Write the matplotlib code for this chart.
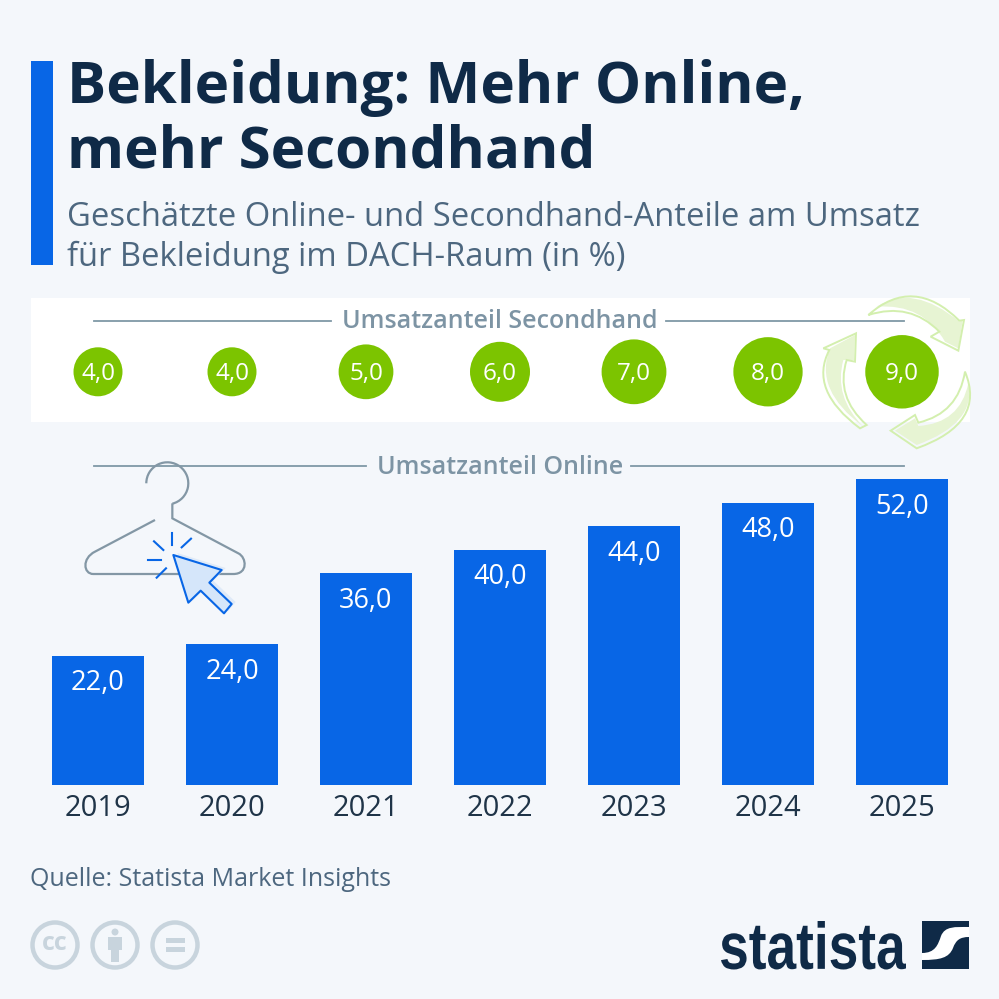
import numpy as np
import matplotlib
matplotlib.use('Agg')
import matplotlib.pyplot as plt
from matplotlib.patches import Rectangle, Polygon, Circle, Arc, PathPatch
from matplotlib.path import Path
from matplotlib.textpath import TextPath
from matplotlib.font_manager import FontProperties
from matplotlib.transforms import Affine2D

# chart data
years = ['2019', '2020', '2021', '2022', '2023', '2024', '2025']
online_share = [22.0, 24.0, 36.0, 40.0, 44.0, 48.0, 52.0]
secondhand_share = [4.0, 4.0, 5.0, 6.0, 7.0, 8.0, 9.0]

title_lines = ['Bekleidung: Mehr Online,', 'mehr Secondhand']
subtitle_lines = ['Geschätzte Online- und Secondhand-Anteile am Umsatz',
                  'für Bekleidung im DACH-Raum (in %)']
source_text = 'Quelle: Statista Market Insights'

# colours
bg_col = '#f4f7fb'
blue = '#0866e6'
navy = '#0f2a47'
slate = '#4d677f'
grey_label = '#7d94a4'
grey_line = '#7f98a6'
green = '#7cc400'
pale_green = '#e7f4d3'
pale_edge = '#d3efae'
cc_col = '#c8d4dd'

plt.rcParams['font.family'] = ['Open Sans', 'DejaVu Sans']
W = H = 999
fig = plt.figure(figsize=(W / 100, H / 100), dpi=100, facecolor=bg_col)


def px_axes(left, top, right, bottom, z):
    return fig.add_axes([left / W, 1 - bottom / H, (right - left) / W, (bottom - top) / H], zorder=z)


def zoom_pts(pts, x0, y0):
    return [(x0 + a / 3, y0 + b / 3) for a, b in pts]


def curved_shape(steps, x0=780, y0=280):
    # steps: list of points, a 2-tuple of points means quadratic curve (control, end)
    verts, codes = [], []
    for st in steps:
        if isinstance(st[0], tuple):
            verts += zoom_pts(st, x0, y0)
            codes += [Path.CURVE3, Path.CURVE3]
        else:
            verts += zoom_pts([st], x0, y0)
            codes.append(Path.LINETO if verts[:-1] else Path.MOVETO)
    verts.append(verts[0])
    codes.append(Path.CLOSEPOLY)
    return Path(verts, codes)


# overlay in pixel coordinates for header, icons and logo
deco = px_axes(0, 0, W, H, 0)
deco.set_xlim(0, W)
deco.set_ylim(H, 0)
deco.axis('off')

deco.add_patch(Rectangle((31, 61), 22, 204, fc=blue, ec='none'))
for txt, y in zip(title_lines, [88, 152]):
    deco.text(67, y, txt, fontsize=42, fontweight='bold', color=navy, va='center', ha='left')
for txt, y in zip(subtitle_lines, [218, 257]):
    deco.text(67, y, txt, fontsize=23.6, color=slate, va='center', ha='left')

# white band behind the secondhand row
deco.add_patch(Rectangle((31, 298), 939, 124, fc='white', ec='none'))

# recycling arrows
arrows = [
    [(265, 105), ((400, -15), (538, 122)), (552, 120), (535, 212), (452, 170), (478, 155), ((390, 65), (265, 105))],
    [(555, 275), ((620, 430), (410, 505)), (332, 452), (405, 405), (415, 428), ((535, 400), (555, 275))],
    [(130, 205), (228, 160), (225, 245), (200, 240), ((165, 350), (260, 435)), (240, 445), ((85, 330), (148, 210))],
]
fills = [
    [(290, 80), ((400, 10), (538, 125)), (548, 120), (535, 205), (495, 185), ((430, 70), (290, 80))],
    [(565, 310), ((590, 430), (410, 495)), (345, 452), (405, 415), (415, 438), ((540, 430), (565, 310))],
    [(150, 205), (225, 165), (222, 240), (190, 240), ((160, 350), (250, 440)), ((100, 330), (150, 205))],
]
for f in fills:
    deco.add_patch(PathPatch(curved_shape(f), fc=pale_green, ec='none', zorder=3))
for a in arrows:
    deco.add_patch(PathPatch(curved_shape(a), fc='none', ec=pale_edge, lw=1.4, zorder=3))

# section rules and headings
deco.plot([94, 331], [321, 321], color=grey_line, lw=1.3, zorder=2)
deco.plot([666, 904], [321, 321], color=grey_line, lw=1.3, zorder=2)
deco.text(500, 322, 'Umsatzanteil Secondhand', fontsize=18, fontweight='semibold', color=grey_label,
          ha='center', va='center')
deco.plot([94, 366], [466, 466], color=grey_line, lw=1.3)
deco.plot([631, 904], [466, 466], color=grey_line, lw=1.3)
deco.text(500, 468, 'Umsatzanteil Online', fontsize=18, fontweight='semibold', color=grey_label,
          ha='center', va='center')

# hanger
hanger_col = '#8397a5'
deco.add_patch(Arc((167.3, 483.3), 42, 42, theta1=180, theta2=436, color=hanger_col, lw=1.6, zorder=4))
hanger_verts = zoom_pts([(307, 160), (307, 205), (505, 310), (530, 322), (535, 372), (490, 372),
                         (70, 372), (40, 372), (35, 325), (75, 305), (255, 210)], 70, 450)
hanger_codes = [Path.MOVETO, Path.LINETO, Path.LINETO, Path.CURVE4, Path.CURVE4, Path.CURVE4,
                Path.LINETO, Path.CURVE4, Path.CURVE4, Path.CURVE4, Path.LINETO]
deco.add_patch(PathPatch(Path(hanger_verts, hanger_codes), fc='none', ec=hanger_col, lw=1.6, zorder=4))

# cursor with sparks
cursor = [(310, 315), (455, 360), (418, 398), (485, 462), (462, 490), (392, 422), (355, 458)]
shadow = [(a + 12, b - 6) for a, b in cursor]
deco.add_patch(Polygon(zoom_pts(shadow, 70, 450), closed=True, fc='#dfeaf8', ec='none', zorder=5))
deco.add_patch(Polygon(zoom_pts(cursor, 70, 450), closed=True, fc='#d5e6fa', ec=blue, lw=1.5,
                       joinstyle='round', zorder=6))
sparks = [((305, 248), (305, 285)), ((363, 266), (335, 292)), ((252, 274), (280, 300)),
          ((233, 330), (272, 330)), ((288, 355), (260, 383))]
for s in sparks:
    p = zoom_pts(s, 70, 450)
    deco.plot([p[0][0], p[1][0]], [p[0][1], p[1][1]], color=blue, lw=1.5, zorder=6)

# source
deco.text(30, 879, source_text, fontsize=18, color=slate, ha='left', va='center')

# licence icons
for cx in [55, 115, 175]:
    deco.add_patch(Circle((cx, 945), 22.5, fc='none', ec=cc_col, lw=3.2))
deco.text(55, 944, 'cc', fontsize=18, fontweight='bold', color=cc_col, ha='center', va='center')
deco.add_patch(Circle((115, 932), 3.5, fc=cc_col, ec='none'))
deco.add_patch(Rectangle((108, 937), 14, 13, fc=cc_col, ec='none'))
deco.add_patch(Rectangle((111, 950), 8, 12, fc=cc_col, ec='none'))
deco.add_patch(Rectangle((165.5, 938), 19, 5, fc=cc_col, ec='none'))
deco.add_patch(Rectangle((165.5, 947), 19, 5, fc=cc_col, ec='none'))

# statista logo
fp = FontProperties(family='Liberation Sans', weight='bold')
tp = TextPath((0, 0), 'statista', size=10, prop=fp)
bb = tp.get_extents()
sx = (906 - 721) / bb.width
sy = (969.5 - 921) / bb.height
tf = Affine2D().translate(-bb.x0, -bb.y0).scale(sx, -sy).translate(721, 969.5)
deco.add_patch(PathPatch(tf.transform_path(tp), fc=navy, ec='none'))
deco.add_patch(Rectangle((922, 921), 47, 48, fc=navy, ec='none'))
s_verts = [(922, 953), (935, 953), (938, 945), (941, 936), (945, 926), (955, 927), (969, 927), (969, 937),
           (960, 937), (956, 940), (953, 948), (949, 958), (940, 960), (922, 960), (922, 953)]
s_codes = [Path.MOVETO] + [Path.CURVE4] * 6 + [Path.LINETO] + [Path.CURVE4] * 6 + [Path.CLOSEPOLY]
deco.add_patch(PathPatch(Path(s_verts, s_codes), fc='white', ec='none'))

# bars
x = np.arange(len(years))
ax = px_axes(31, 479, 969, 785, 1)
ax.patch.set_alpha(0)
ax.bar(x, online_share, width=0.68, color=blue)
ax.set_xlim(-0.5, 6.5)
ax.set_ylim(0, 52)
ax.set_yticks([])
ax.set_xticks(x, years, fontsize=21, color='#1f3448')
ax.tick_params(axis='x', length=0, pad=6.5)
for s in ax.spines.values():
    s.set_visible(False)
for i, v in zip(x, online_share):
    ax.annotate(f'{v:.1f}'.replace('.', ','), (i, v), xytext=(0, -20), textcoords='offset points',
                ha='center', va='center', color='white', fontsize=19.5, fontweight='medium')

# secondhand bubbles
bx = px_axes(31, 298, 969, 421, 2)
bx.patch.set_alpha(0)
bx.axis('off')
bx.set_xlim(-0.5, 6.5)
bx.set_ylim(0, 1)
row = np.full(len(years), 0.4)
bx.scatter(x, row, s=np.array(secondhand_share) * 311, color=green, linewidths=0, zorder=2)
for i, v in zip(x, secondhand_share):
    bx.text(i, 0.385, f'{v:.1f}'.replace('.', ','), color='white', fontsize=17.5, fontweight='medium',
            ha='center', va='center', zorder=3)

fig.savefig('out.png', dpi=100, facecolor=bg_col)
